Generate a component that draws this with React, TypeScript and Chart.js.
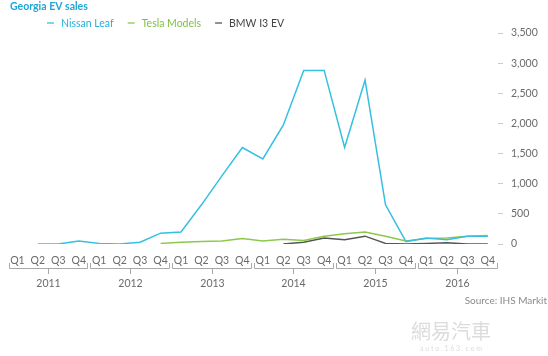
import React, { useEffect, useRef } from "react";
import { Chart, registerables } from "chart.js";

Chart.register(...registerables);

const quarters = [
  "Q1", "Q2", "Q3", "Q4", "Q1", "Q2", "Q3", "Q4", "Q1", "Q2", "Q3", "Q4",
  "Q1", "Q2", "Q3", "Q4", "Q1", "Q2", "Q3", "Q4", "Q1", "Q2", "Q3", "Q4",
];
const years = ["2011", "2012", "2013", "2014", "2015", "2016"];
const nissanLeaf = [null, 0, 0, 50, 10, 0, 30, 180, 200, 650, 1130, 1600, 1410, 1970, 2880, 2880, 1600, 2720, 650, 40, 100, 70, 130, 130];
const teslaModels = [null, null, null, null, null, null, null, 10, 30, 40, 50, 90, 50, 80, 60, 130, 170, 200, 130, 50, 90, 100, 130, 140];
const bmwI3Ev = [null, null, null, null, null, null, null, null, null, null, null, null, null, 0, 30, 100, 70, 130, 10, 0, 10, 20, 0, 0];
const yMax = 3500;
const yStep = 500;

const title = "Georgia EV sales";
const sourceText = "Source: IHS Markit";

const CYAN = "#35bfe0";
const GREEN = "#8cc84b";
const GRAY = "#555555";
const FONT = "Lato, 'DejaVu Sans', sans-serif";

const overlay = {
  id: "overlay",
  afterDraw(chart: any) {
    const ctx = chart.ctx;
    const xs = chart.scales.x;
    ctx.save();
    // title
    ctx.fillStyle = "#1fa6d8";
    ctx.font = `bold 10.5px ${FONT}`;
    ctx.textBaseline = "middle";
    ctx.textAlign = "left";
    ctx.fillText(title, 10, 7);
    // legend
    ctx.font = `10.5px ${FONT}`;
    let lx = 47;
    chart.data.datasets.forEach((ds: any) => {
      ctx.strokeStyle = ds.borderColor;
      ctx.lineWidth = 1.3;
      ctx.beginPath();
      ctx.moveTo(lx, 23);
      ctx.lineTo(lx + 7, 23);
      ctx.stroke();
      ctx.fillStyle = ds.legendTextColor;
      ctx.fillText(ds.label, lx + 14, 23.5);
      lx += 14 + ctx.measureText(ds.label).width + 14;
    });
    // year brackets
    const step = xs.getPixelForValue(1) - xs.getPixelForValue(0);
    ctx.strokeStyle = "#a8a8a8";
    ctx.lineWidth = 1;
    ctx.fillStyle = "#6a6a6a";
    ctx.font = `10.5px ${FONT}`;
    ctx.textAlign = "center";
    const by = 268.5;
    years.forEach((y, k) => {
      const s = xs.getPixelForValue(4 * k) - step / 2 + 1.5;
      const e = xs.getPixelForValue(4 * k + 3) + step / 2 - 1.5;
      const m = Math.round((s + e) / 2) + 0.5;
      ctx.beginPath();
      ctx.moveTo(Math.round(s) + 0.5, 263);
      ctx.lineTo(Math.round(s) + 0.5, by);
      ctx.lineTo(Math.round(e) + 0.5, by);
      ctx.lineTo(Math.round(e) + 0.5, 263);
      ctx.moveTo(m, by);
      ctx.lineTo(m, 274);
      ctx.stroke();
      ctx.fillText(y, m, 283.5);
    });
    // source
    ctx.textAlign = "right";
    ctx.fillStyle = "#8a8a8a";
    ctx.font = `10px ${FONT}`;
    ctx.fillText(sourceText, 547, 301);
    // watermark
    ctx.textAlign = "center";
    ctx.fillStyle = "#dcdcdc";
    ctx.font = `20px 'Noto Sans CJK SC', sans-serif`;
    ctx.fillText("網易汽車", 451, 331);
    ctx.font = `7px ${FONT}`;
    ctx.fillText("a u t o . 1 6 3 . c o m", 451, 349);
    ctx.restore();
  },
};

export default function App() {
  const ref = useRef<HTMLCanvasElement | null>(null);
  useEffect(() => {
    document.body.style.margin = "0";
    const canvas = ref.current;
    if (!canvas) return;
    const chart = new Chart(canvas, {
      type: "line",
      data: {
        labels: quarters,
        datasets: [
          { label: "Nissan Leaf", data: nissanLeaf, borderColor: CYAN, legendTextColor: "#29b0dc" } as any,
          { label: "Tesla Models", data: teslaModels, borderColor: GREEN, legendTextColor: "#7fbf3f" } as any,
          { label: "BMW I3 EV", data: bmwI3Ev, borderColor: GRAY, legendTextColor: "#444" } as any,
        ].map((d: any) => ({ ...d, borderWidth: 1.5, pointRadius: 0, tension: 0, fill: false, spanGaps: false })),
      },
      options: {
        responsive: false,
        animation: false,
        events: [],
        layout: { padding: { top: 33, left: 7, right: 0, bottom: 0 } },
        plugins: { legend: { display: false }, title: { display: false }, tooltip: { enabled: false } },
        scales: {
          x: {
            type: "category",
            offset: true,
            grid: { display: false, drawTicks: false },
            border: { display: false },
            ticks: { color: "#6a6a6a", font: { family: FONT, size: 10.5 }, padding: 10, maxRotation: 0, autoSkip: false },
            afterFit: (s: any) => { s.height = 112; },
          },
          y: {
            position: "right",
            min: 0,
            max: yMax,
            grid: { drawOnChartArea: false, tickLength: 5, color: "#cccccc" },
            border: { display: false },
            ticks: {
              stepSize: yStep,
              color: "#6a6a6a",
              font: { family: FONT, size: 10.5 },
              padding: 8,
              callback: (v: any) => Number(v).toLocaleString("en-US"),
            },
            afterFit: (s: any) => { s.width = 50; },
          },
        },
      },
      plugins: [overlay],
    });
    return () => chart.destroy();
  }, []);
  return <canvas ref={ref} width={548} height={356} style={{ display: "block" }} />;
}
